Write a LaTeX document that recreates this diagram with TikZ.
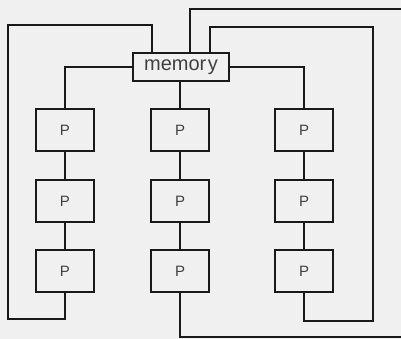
\documentclass[tikz,border=0pt]{standalone}
\usepackage{fontspec}
\setmainfont{Liberation Sans}
\begin{document}
\begin{tikzpicture}[x=1pt,y=-1pt,
  wire/.style={line width=2pt, draw=black!90},
  pbox/.style={draw=black!90, line width=2pt, rectangle, minimum width=58pt, minimum height=42pt, inner sep=0pt, font=\fontsize{15}{15}\selectfont, text=black!75},
  membox/.style={draw=black!90, line width=2pt, rectangle, minimum width=96pt, minimum height=28pt, inner sep=0pt, font=\fontsize{20}{20}\selectfont, text=black!75}]
\fill[black!6] (0,0) rectangle (401,339);
\useasboundingbox (0,0) rectangle (401,339);
\node[membox] (mem) at (181,67) {memor\kern1.5pt y};
\foreach \c/\x in {1/65,2/180,3/304}{
  \foreach \r/\y in {1/130,2/201,3/271}{
    \node[pbox] (p\r\c) at (\x,\y) {P};
  }
}
% memory to first row
\draw[wire] (mem.west) -| (p11.north);
\draw[wire] (mem.east) -| (p13.north);
\draw[wire] (mem.south -| p12.north) -- (p12.north);
% chains
\foreach \c in {1,2,3}{
  \draw[wire] (p1\c.south) -- (p2\c.north);
  \draw[wire] (p2\c.south) -- (p3\c.north);
}
% left loop
\coordinate (la) at (152,53);
\coordinate (lb) at (152,25);
\coordinate (lc) at (8,25);
\coordinate (ld) at (8,319);
\coordinate (le) at (65,319);
\draw[wire] (la) -- (lb) -- (lc) -- (ld) -- (le) -- (p31.south);
% outer loop
\coordinate (oa) at (190,53);
\coordinate (ob) at (190,9);
\coordinate (oc) at (410,9);
\coordinate (od) at (410,337);
\coordinate (oe) at (180,337);
\draw[wire] (oa) -- (ob) -- (oc) -- (od) -- (oe) -- (p32.south);
% inner right loop
\coordinate (ra) at (210,53);
\coordinate (rb) at (210,27);
\coordinate (rc) at (373,27);
\coordinate (rd) at (373,321);
\coordinate (re) at (304,321);
\draw[wire] (ra) -- (rb) -- (rc) -- (rd) -- (re) -- (p33.south);
\end{tikzpicture}
\end{document}
